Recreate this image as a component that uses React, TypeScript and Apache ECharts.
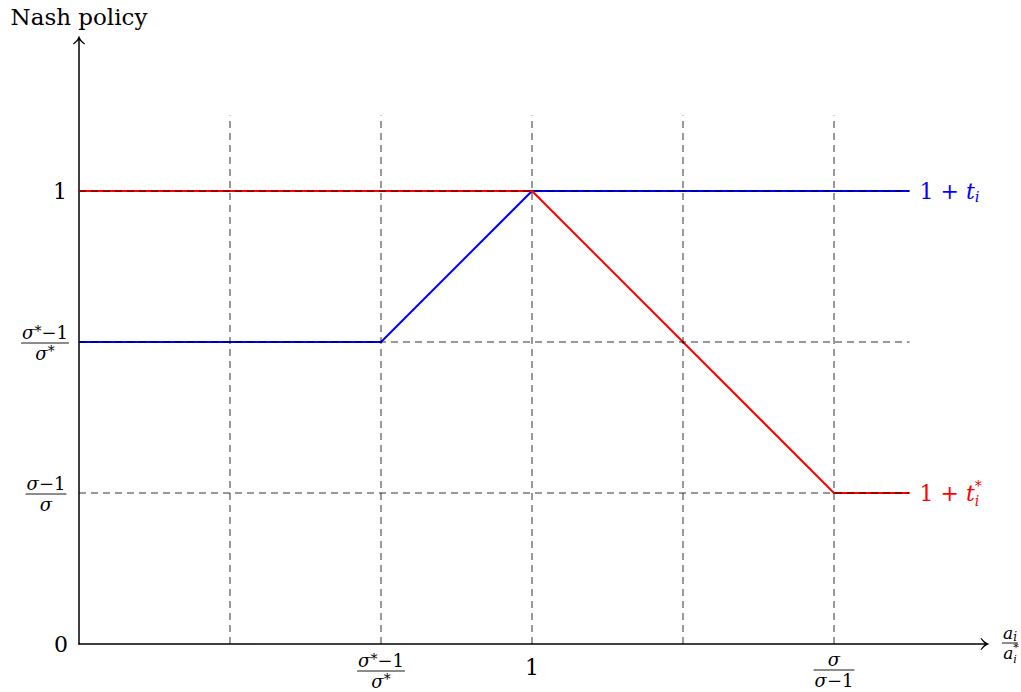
import React, { useEffect, useRef } from 'react';
import * as echarts from 'echarts';

const FONT = '"DejaVu Serif", "Liberation Serif", serif';

// data
const xTickVals = [1, 2, 3, 4, 5];
const yLevels = [1, 2, 3];
const blueLine = [[0, 2], [2, 2], [3, 3], [5.5, 3]];
const redLine = [[0, 3], [3, 3], [5, 1], [5.5, 1]];
const gridXEnd = 5.5;
const gridYEnd = 3.5;
const axisXMax = 6;
const axisYMax = 4;
const yAxisTitle = 'Nash policy';

type Piece = { t: string; s: number; it?: boolean; dy?: number; adv?: boolean };

const CHEVRON =
  'path://M0,0 C1,3 3,6 6,8 L5.4,8.9 C3,7.2 1.2,5.6 0,4.2 C-1.2,5.6 -3,7.2 -5.4,8.9 L-6,8 C-3,6 -1,3 0,0 Z';

function fontOf(p: Piece) {
  return `${p.it ? 'italic ' : ''}${p.s}px ${FONT}`;
}

function rowLayout(ctx: CanvasRenderingContext2D, pieces: Piece[]) {
  let x = 0;
  const items: { x: number; p: Piece }[] = [];
  for (const p of pieces) {
    ctx.font = fontOf(p);
    const w = ctx.measureText(p.t).width;
    items.push({ x, p });
    if (p.adv !== false) x += w;
  }
  return { w: x, items };
}

function mathText(
  ctx: CanvasRenderingContext2D,
  pieces: Piece[],
  x0: number,
  cy: number,
  align: 'left' | 'center' | 'right',
  color: string
) {
  const r = rowLayout(ctx, pieces);
  const off = align === 'left' ? 0 : align === 'center' ? -r.w / 2 : -r.w;
  return {
    w: r.w,
    els: r.items.map((it) => ({
      type: 'text',
      silent: true,
      z: 10,
      x: x0 + off + it.x,
      y: cy + (it.p.dy || 0),
      style: {
        text: it.p.t,
        font: fontOf(it.p),
        fill: color,
        align: 'left',
        verticalAlign: 'middle',
        textAlign: 'left',
        textVerticalAlign: 'middle',
      },
    })),
  };
}

function fraction(
  ctx: CanvasRenderingContext2D,
  num: Piece[],
  den: Piece[],
  cx: number,
  barY: number,
  size: number,
  color = '#000'
) {
  const n = mathText(ctx, num, cx, barY - size * 0.58, 'center', color);
  const d = mathText(ctx, den, cx, barY + size * 0.58, 'center', color);
  const w = Math.max(n.w, d.w) + 2;
  return [
    ...n.els,
    ...d.els,
    {
      type: 'line',
      silent: true,
      z: 10,
      shape: { x1: cx - w / 2, y1: barY, x2: cx + w / 2, y2: barY },
      style: { stroke: color, lineWidth: 0.9 },
    },
  ];
}

const FS = 18;
const sigStarM1: Piece[] = [
  { t: 'σ', s: FS, it: true },
  { t: '*', s: 14, dy: -2 },
  { t: '−1', s: FS },
];
const sigStar: Piece[] = [
  { t: 'σ', s: FS, it: true },
  { t: '*', s: 14, dy: -2 },
];
const sigM1: Piece[] = [
  { t: 'σ', s: FS, it: true },
  { t: '−1', s: FS },
];
const sig: Piece[] = [{ t: 'σ', s: FS, it: true }];

export default function App() {
  const ref = useRef<HTMLDivElement>(null);
  useEffect(() => {
    if (!ref.current) return;
    const chart = echarts.init(ref.current, undefined, { renderer: 'svg' });
    const dash = { type: [7, 5] as any, color: 'rgba(0,0,0,0.8)', width: 1 };
    const series: any[] = [
      {
        type: 'line',
        data: blueLine,
        symbol: 'none',
        lineStyle: { color: '#0000ff', width: 2 },
        z: 3,
        silent: true,
      },
      {
        type: 'line',
        data: redLine,
        symbol: 'none',
        lineStyle: { color: '#ff0000', width: 2 },
        z: 3,
        silent: true,
      },
      ...yLevels.map((v) => ({
        type: 'line',
        data: [[0, v], [gridXEnd, v]],
        symbol: 'none',
        lineStyle: dash,
        z: 5,
        silent: true,
      })),
      ...xTickVals.map((v) => ({
        type: 'line',
        data: [[v, 0], [v, gridYEnd]],
        symbol: 'none',
        lineStyle: dash,
        z: 5,
        silent: true,
      })),
    ];
    const axisLine = {
      show: true,
      onZero: false,
      symbol: ['none', CHEVRON],
      symbolSize: [12, 13],
      symbolOffset: [0, 0],
      lineStyle: { color: '#000', width: 1.5 },
    };
    chart.setOption({
      animation: false,
      backgroundColor: '#fff',
      grid: { left: 79, right: 36, top: 40, bottom: 48, containLabel: false },
      xAxis: {
        type: 'value',
        min: 0,
        max: axisXMax,
        axisLine,
        axisTick: { show: false },
        axisLabel: { show: false },
        splitLine: { show: false },
      },
      yAxis: {
        type: 'value',
        min: 0,
        max: axisYMax,
        axisLine,
        axisTick: { show: false },
        axisLabel: { show: false },
        splitLine: { show: false },
      },
      series,
    });

    const ctx = document.createElement('canvas').getContext('2d')!;
    const px = (x: number, y: number) => chart.convertToPixel({ gridIndex: 0 }, [x, y]) as number[];
    const [ox, oy] = px(0, 0);
    const g: any[] = [];
    // y axis title
    g.push(...mathText(ctx, [{ t: yAxisTitle, s: 23 }], ox, px(0, axisYMax)[1] - 23, 'center', '#000').els);
    // y tick labels
    g.push(...mathText(ctx, [{ t: '0', s: 22 }], ox - 11, oy, 'right', '#000').els);
    g.push(...mathText(ctx, [{ t: '1', s: 22 }], ox - 12, px(0, 3)[1], 'right', '#000').els);
    g.push(...fraction(ctx, sigStarM1, sigStar, ox - 34, px(0, 2)[1] + 1, FS));
    g.push(...fraction(ctx, sigM1, sig, ox - 33, px(0, 1)[1] + 1, FS));
    // x tick labels
    g.push(...fraction(ctx, sigStarM1, sigStar, px(2, 0)[0], oy + 27, FS));
    g.push(...mathText(ctx, [{ t: '1', s: 22 }], px(3, 0)[0], oy + 23, 'center', '#000').els);
    g.push(...fraction(ctx, sig, sigM1, px(5, 0)[0], oy + 26, FS));
    // x axis title a_i / a_i^*
    g.push(
      ...fraction(
        ctx,
        [
          { t: 'a', s: 17, it: true },
          { t: 'i', s: 12, it: true, dy: 4 },
        ],
        [
          { t: 'a', s: 17, it: true },
          { t: '*', s: 11, dy: -5, adv: false },
          { t: 'i', s: 11, it: true, dy: 7 },
        ],
        px(axisXMax, 0)[0] + 25,
        oy - 1,
        17
      )
    );
    // series labels
    const lx = px(gridXEnd, 0)[0] + 10;
    g.push(
      ...mathText(
        ctx,
        [
          { t: '1 + ', s: 22 },
          { t: 't', s: 22, it: true },
          { t: 'i', s: 15, it: true, dy: 6 },
        ],
        lx,
        px(0, 3)[1],
        'left',
        '#0000ff'
      ).els
    );
    g.push(
      ...mathText(
        ctx,
        [
          { t: '1 + ', s: 22 },
          { t: 't', s: 22, it: true },
          { t: '*', s: 14, dy: -7, adv: false },
          { t: 'i', s: 14, it: true, dy: 8 },
        ],
        lx,
        px(0, 1)[1],
        'left',
        '#ff0000'
      ).els
    );
    chart.setOption({ graphic: { elements: g } });
    return () => chart.dispose();
  }, []);
  return (
    <div
      ref={ref}
      style={{ position: 'absolute', left: 0, top: 0, width: 1021, height: 692 }}
    />
  );
}
